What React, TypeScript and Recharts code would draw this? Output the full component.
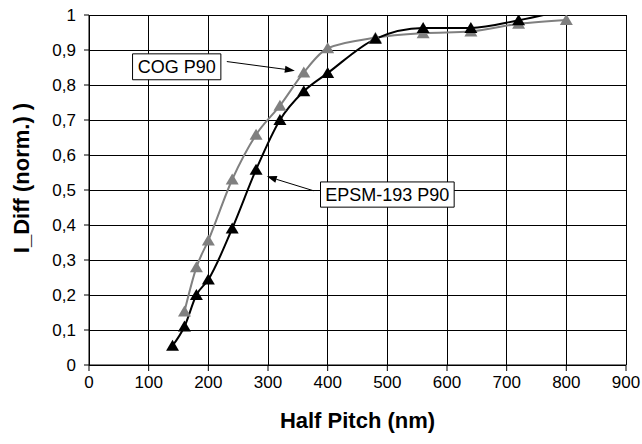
import { CartesianGrid, Line, LineChart, ReferenceArea, ReferenceLine, XAxis, YAxis } from 'recharts';

const pitch = [140, 160, 180, 200, 240, 280, 320, 360, 400, 480, 560, 640, 720, 800];
const cogP90 = [null, 0.153, 0.279, 0.356, 0.53, 0.658, 0.741, 0.836, 0.905, 0.935, 0.948, 0.953, 0.975, 0.986];
const epsmP90 = [0.055, 0.11, 0.2, 0.244, 0.39, 0.558, 0.7, 0.782, 0.834, 0.932, 0.963, 0.963, 0.985, 1.015];
// last EPSM point is only the end of the smoothed line, no marker there
const epsmMarked = [true, true, true, true, true, true, true, true, true, true, true, true, true, false];

const xTicks = [0, 100, 200, 300, 400, 500, 600, 700, 800, 900];
const yTicks = [0, 0.1, 0.2, 0.3, 0.4, 0.5, 0.6, 0.7, 0.8, 0.9, 1];

const data = pitch.map((x, i) => ({ x, cog: cogP90[i], epsm: epsmP90[i] }));

const FONT = '"Liberation Sans", Arial, sans-serif';

const triangle = (fill: string, marked?: boolean[]) => (props: any) => {
  const { cx, cy, index } = props;
  if (cx == null || cy == null || (marked && !marked[index])) return <g key={`n-${index}`} />;
  return (
    <polygon
      key={`t-${index}`}
      points={`${cx},${cy - 6} ${cx - 6.5},${cy + 5} ${cx + 6.5},${cy + 5}`}
      fill={fill}
    />
  );
};

const Arrow = (p: any) => {
  const { x1, y1, x2, y2 } = p;
  const a = Math.atan2(y2 - y1, x2 - x1);
  const L = 10;
  const W = 3.5;
  const bx = x2 - L * Math.cos(a);
  const by = y2 - L * Math.sin(a);
  const px = -Math.sin(a) * W;
  const py = Math.cos(a) * W;
  return (
    <g>
      <line x1={x1} y1={y1} x2={bx} y2={by} stroke="#000" strokeWidth={1} />
      <polygon points={`${x2},${y2} ${bx + px},${by + py} ${bx - px},${by - py}`} fill="#000" />
    </g>
  );
};

const comma = (v: number) => String(v).replace('.', ',');

export default function App() {
  return (
    <div style={{ position: 'absolute', left: 0, top: 0, background: '#fff' }}>
      <LineChart width={642} height={444} data={data} margin={{ top: 15, right: 16, bottom: 19, left: 9 }}>
        <CartesianGrid stroke="#000" strokeWidth={1} strokeOpacity={1} shapeRendering="crispEdges" />
        <XAxis
          dataKey="x"
          type="number"
          domain={[0, 900]}
          ticks={xTicks}
          height={60}
          stroke="#000"
          tickSize={6}
          tickMargin={5}
          tick={{ fill: '#000', fontSize: 17, fontFamily: FONT }}
          label={{
            content: () => (
              <text x={357.5} y={428} textAnchor="middle" fontSize={22} fontWeight="bold" fontFamily={FONT} fill="#000">
                Half Pitch (nm)
              </text>
            ),
          }}
        />
        <YAxis
          type="number"
          domain={[0, 1]}
          allowDataOverflow
          ticks={yTicks}
          width={80}
          stroke="#000"
          tickSize={5}
          tickMargin={8}
          tickFormatter={comma}
          tick={{ fill: '#000', fontSize: 17, fontFamily: FONT }}
          label={{
            content: () => (
              <text
                x={0}
                y={0}
                transform="translate(29,178) rotate(-90)"
                textAnchor="middle"
                fontSize={22}
                fontWeight="bold"
                fontFamily={FONT}
                fill="#000"
              >
                I_Diff (norm.)  )
              </text>
            ),
          }}
        />
        <Line
          type="monotone"
          dataKey="cog"
          stroke="#808080"
          strokeWidth={2}
          connectNulls
          dot={triangle('#808080')}
          activeDot={false}
          isAnimationActive={false}
        />
        <Line
          type="monotone"
          dataKey="epsm"
          stroke="#000"
          strokeWidth={2}
          dot={triangle('#000', epsmMarked)}
          activeDot={false}
          isAnimationActive={false}
        />
        <ReferenceArea
          x1={73}
          x2={221}
          y1={0.815}
          y2={0.889}
          fill="#fff"
          fillOpacity={1}
          stroke="#000"
          strokeWidth={1}
          ifOverflow="visible"
          label={{ value: 'COG P90', position: 'center', fontSize: 18, fill: '#000', fontFamily: FONT }}
        />
        <ReferenceArea
          x1={388}
          x2={612}
          y1={0.451}
          y2={0.523}
          fill="#fff"
          fillOpacity={1}
          stroke="#000"
          strokeWidth={1}
          ifOverflow="visible"
          label={{ value: 'EPSM-193 P90', position: 'center', fontSize: 18, fill: '#000', fontFamily: FONT }}
        />
        <ReferenceLine
          segment={[{ x: 231, y: 0.867 }, { x: 345, y: 0.841 }]}
          stroke="#000"
          ifOverflow="visible"
          shape={Arrow}
        />
        <ReferenceLine
          segment={[{ x: 376, y: 0.498 }, { x: 298, y: 0.539 }]}
          stroke="#000"
          ifOverflow="visible"
          shape={Arrow}
        />
      </LineChart>
    </div>
  );
}
